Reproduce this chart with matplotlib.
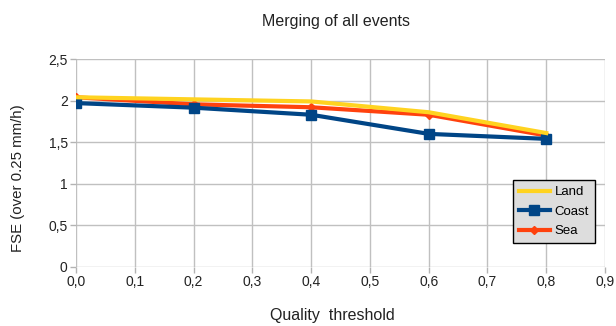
import matplotlib
matplotlib.use("Agg")
import matplotlib.pyplot as plt
from matplotlib.ticker import FuncFormatter

plt.rcParams['font.family'] = ['Liberation Sans', 'DejaVu Sans']

thresholds = [0.0, 0.2, 0.4, 0.6, 0.8]
land = [2.04, 2.015, 1.99, 1.86, 1.61]
coast = [1.97, 1.915, 1.83, 1.60, 1.54]
sea = [2.04, 1.955, 1.92, 1.83, 1.58]

fig = plt.figure(figsize=(6.16, 3.26), dpi=100)
ax = fig.add_axes([0.1234, 0.181, 0.8588, 0.638])

ax.plot(thresholds, land, color='#ffd320', lw=3, label='Land', zorder=5)
ax.plot(thresholds, coast, color='#004586', lw=3, marker='s', ms=7, label='Coast', zorder=4)
ax.plot(thresholds, sea, color='#ff420e', lw=3, marker='D', ms=4.5, label='Sea', zorder=3)

ax.set_xlim(0, 0.9)
ax.set_ylim(0, 2.5)
ax.set_xticks([i / 10 for i in range(10)])
ax.set_yticks([0, 0.5, 1, 1.5, 2, 2.5])
ax.xaxis.set_major_formatter(FuncFormatter(lambda v, p: f"{v:.1f}".replace('.', ',')))
ax.yaxis.set_major_formatter(FuncFormatter(lambda v, p: (f"{v:g}").replace('.', ',')))
ax.grid(True, color='#c0c0c0', lw=1)
ax.set_axisbelow(True)
for s in ax.spines.values():
    s.set_visible(False)
ax.tick_params(colors='#b3b3b3', labelcolor='#222222', labelsize=10, length=4, width=1, pad=2)

ax.set_xlabel('Quality  threshold', fontsize=11.5, color='#222222', labelpad=11)
ax.xaxis.set_label_coords(0.484, -0.195)
ax.set_ylabel('FSE (over 0.25 mm/h)', fontsize=10.8, color='#222222')
ax.yaxis.set_label_coords(-0.097, 0.428)
fig.text(0.545, 0.935, 'Merging of all events', fontsize=11.5, ha='center', va='center',
         color='#222222')

leg = ax.legend(loc='lower left', bbox_to_anchor=(0.826, 0.115), fontsize=9.5,
                frameon=True, fancybox=False, framealpha=1, edgecolor='black',
                facecolor='#dddddd', handlelength=2.35, borderpad=0.45, labelspacing=0.55,
                handletextpad=0.35, borderaxespad=0)
leg.get_frame().set_linewidth(1)

fig.savefig('out.png', dpi=100)
